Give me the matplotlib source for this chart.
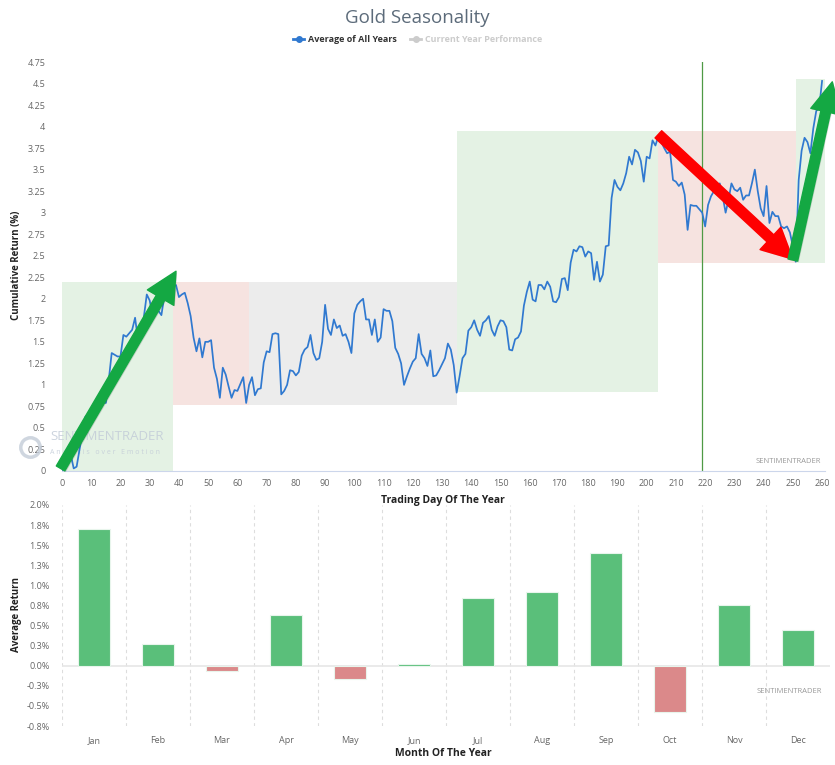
import matplotlib
matplotlib.use('Agg')
import matplotlib.pyplot as plt
import matplotlib.patheffects as pe
from matplotlib.patches import FancyArrowPatch
from matplotlib.lines import Line2D
import numpy as np

plt.rcParams['font.family'] = ['Open Sans', 'DejaVu Sans']

# average cumulative return by trading day (%)
avg_return = [
    0.01, 0.12, 0.22, 0.19, 0.03, 0.05, 0.25, 0.45, 0.63, 0.66,
    0.60, 0.68, 0.72, 0.79, 0.80, 0.79, 1.06, 1.37, 1.35, 1.33,
    1.33, 1.58, 1.56, 1.60, 1.64, 1.78, 1.52, 1.55, 1.79, 2.05,
    1.98, 1.79, 1.91, 1.86, 1.81, 2.03, 2.07, 2.10, 2.14, 2.16,
    2.02, 2.05, 2.07, 1.95, 1.80, 1.55, 1.39, 1.54, 1.32, 1.50,
    1.50, 1.52, 1.20, 1.07, 0.85, 1.20, 1.12, 0.98, 0.85, 0.94,
    0.93, 1.01, 1.09, 0.79, 1.00, 1.09, 0.88, 0.95, 0.96, 1.26,
    1.39, 1.38, 1.59, 1.60, 1.59, 0.89, 0.93, 1.00, 1.17, 1.16,
    1.11, 1.15, 1.34, 1.41, 1.44, 1.58, 1.37, 1.29, 1.31, 1.50,
    1.93, 1.65, 1.58, 1.76, 1.66, 1.69, 1.57, 1.59, 1.50, 1.37,
    1.83, 1.93, 1.97, 2.00, 1.76, 1.76, 1.58, 1.76, 1.50, 1.55,
    1.88, 1.86, 1.86, 1.74, 1.43, 1.36, 1.25, 1.00, 1.10, 1.19,
    1.27, 1.31, 1.59, 1.36, 1.31, 1.22, 1.40, 1.10, 1.11, 1.17,
    1.24, 1.31, 1.48, 1.41, 1.23, 0.91, 1.10, 1.31, 1.36, 1.63,
    1.67, 1.75, 1.64, 1.57, 1.72, 1.75, 1.80, 1.64, 1.57, 1.68,
    1.75, 1.74, 1.67, 1.41, 1.40, 1.53, 1.55, 1.62, 1.92, 2.08,
    2.20, 1.99, 1.97, 2.16, 2.16, 2.11, 2.20, 2.14, 1.97, 1.96,
    2.02, 2.23, 2.24, 2.10, 2.42, 2.57, 2.55, 2.61, 2.60, 2.49,
    2.55, 2.53, 2.22, 2.43, 2.20, 2.28, 2.61, 2.62, 3.17, 3.38,
    3.30, 3.26, 3.34, 3.46, 3.65, 3.56, 3.73, 3.70, 3.60, 3.36,
    3.65, 3.63, 3.84, 3.78, 3.89, 3.82, 3.75, 3.69, 3.71, 3.38,
    3.36, 3.31, 3.35, 3.21, 2.80, 3.09, 3.08, 3.08, 3.04, 3.00,
    2.84, 3.09, 3.19, 3.25, 3.31, 3.34, 3.19, 3.00, 3.15, 3.34,
    3.27, 3.25, 3.29, 3.15, 3.20, 3.20, 3.34, 3.50, 3.25, 3.05,
    2.96, 3.31, 2.88, 3.01, 2.96, 2.96, 2.84, 2.82, 2.84, 2.77,
    2.61, 2.43, 3.38, 3.72, 3.87, 3.82, 3.69, 3.98, 4.18, 4.22,
    4.53,
]
days = np.arange(len(avg_return))

# shaded seasonal zones: start day, end day, low, high, colour
zone_start = [0, 38, 64, 135, 204, 251]
zone_end = [38, 64, 135, 204, 251, 261]
zone_low = [0, 0.77, 0.77, 0.92, 2.42, 2.42]
zone_high = [2.2, 2.2, 2.2, 3.95, 3.95, 4.55]
zone_color = ['#e4f2e4', '#f6e3e0', '#ececec', '#e4f2e4', '#f6e3e0', '#e4f2e4']

# drawn trend arrows: (tail day, tail value) -> (tip day, tip value)
arrow_tail = [(-0.5, 0.03), (204, 3.91), (250, 2.45)]
arrow_tip = [(39, 2.32), (250, 2.46), (263.5, 4.52)]
arrow_color = ['#14a843', '#ff0000', '#14a843']

current_day = 219

months = ['Jan', 'Feb', 'Mar', 'Apr', 'May', 'Jun',
          'Jul', 'Aug', 'Sep', 'Oct', 'Nov', 'Dec']
month_return = [1.70, 0.27, -0.07, 0.63, -0.16, 0.02,
                0.84, 0.92, 1.40, -0.57, 0.75, 0.45]
month_ticks = [2.0, 1.75, 1.5, 1.25, 1.0, 0.75, 0.5, 0.25, 0.0, -0.25, -0.5, -0.75]
month_tick_labels = ['2.0%', '1.8%', '1.5%', '1.3%', '1.0%', '0.8%', '0.5%',
                     '0.3%', '0.0%', '-0.3%', '-0.5%', '-0.8%']

W, H = 835, 765
fig = plt.figure(figsize=(W / 100, H / 100), dpi=100)

def frac(x0, y0, x1, y1):
    return [x0 / W, 1 - y1 / H, (x1 - x0) / W, (y1 - y0) / H]

blue = '#3079d0'
tick_col = '#666666'

# ---- top panel: cumulative seasonality line
ax = fig.add_axes(frac(62, 62, 825, 471))
for x0, x1, lo, hi, c in zip(zone_start, zone_end, zone_low, zone_high, zone_color):
    ax.fill_between([x0, x1], lo, hi, color=c, lw=0, zorder=1)
ax.axvline(current_day, color='#4f9a45', lw=0.9, zorder=2)
ax.plot(days, avg_return, color=blue, lw=1.25, zorder=3)

for tail, tip, c in zip(arrow_tail, arrow_tip, arrow_color):
    arr = FancyArrowPatch(tail, tip, arrowstyle='simple,head_width=1.0,head_length=1.0,tail_width=0.32',
                          mutation_scale=22, color=c, shrinkA=0, shrinkB=0,
                          zorder=5, clip_on=False)
    arr.set_path_effects([pe.SimplePatchShadow(offset=(0.8, -0.8), alpha=0.18), pe.Normal()])
    ax.add_patch(arr)

ax.set_xlim(0, 261)
ax.set_ylim(0, 4.75)
ax.set_xticks(np.arange(0, 261, 10))
ax.set_yticks(np.arange(0, 4.76, 0.25))
ax.set_yticklabels(['%g' % v for v in np.arange(0, 4.76, 0.25)])
ax.tick_params(axis='both', length=0, labelsize=6.5, colors=tick_col)
ax.tick_params(axis='x', pad=6)
ax.tick_params(axis='y', pad=12)
for s in ['top', 'right', 'left']:
    ax.spines[s].set_visible(False)
ax.spines['bottom'].set_color('#ccd6eb')

# watermark
ax.text(-4, 0.40, 'SENTIMENTRADER', fontsize=9.5, color='#c3ccd8', alpha=0.85,
        va='center', zorder=2, clip_on=False)
ax.text(-4, 0.22, 'A n a l y s i s   o v e r   E m o t i o n', fontsize=5, color='#c3ccd8',
        alpha=0.85, va='center', zorder=2, clip_on=False)
ax.plot([-11], [0.28], marker='o', ms=14, mfc='none', mec='#c3ccd8', mew=2.5,
        alpha=0.8, clip_on=False, zorder=2)
ax.text(0.995, 0.015, 'SENTIMENTRADER', transform=ax.transAxes, fontsize=5.5,
        color='#999999', ha='right', va='bottom')

# ---- bottom panel: average monthly return
ax2 = fig.add_axes(frac(62, 505, 830, 726))
xm = np.arange(len(months))
bar_cols = ['#5abf7a' if v >= 0 else '#db898a' for v in month_return]
ax2.bar(xm, month_return, width=0.5, color=bar_cols, edgecolor='#e8f5ec', lw=0.8, zorder=3)
for b in np.arange(len(months)) - 0.5:
    ax2.axvline(b, color='#dddddd', lw=0.8, ls=(0, (3, 3)), zorder=1)
ax2.axhline(0, color='#e6e6e6', lw=1.2, zorder=2)
ax2.set_xlim(-0.5, 11.5)
ax2.set_ylim(-0.75, 2.0)
ax2.set_xticks(xm)
ax2.set_xticklabels(months)
ax2.set_yticks(month_ticks)
ax2.set_yticklabels(month_tick_labels)
ax2.tick_params(axis='both', length=0, labelsize=6.5, colors=tick_col)
ax2.tick_params(axis='x', pad=7)
ax2.tick_params(axis='y', pad=9)
for s in ax2.spines.values():
    s.set_visible(False)
ax2.text(0.99, 0.14, 'SENTIMENTRADER', transform=ax2.transAxes, fontsize=5.5,
         color='#999999', ha='right', va='bottom')

# ---- titles and labels
fig.text(0.5, 1 - 18 / H, 'Gold Seasonality', ha='center', va='center',
         fontsize=13.5, color='#5c6b7a')
fig.text(17 / W, 1 - 265 / H, 'Cumulative Return (%)', rotation=90, ha='center',
         va='center', fontsize=7, fontweight='bold', color='#222222')
fig.text(443 / W, 1 - 500 / H, 'Trading Day Of The Year', ha='center', va='center',
         fontsize=7.5, fontweight='bold', color='#222222')
fig.text(17 / W, 1 - 615 / H, 'Average Return', rotation=90, ha='center',
         va='center', fontsize=7, fontweight='bold', color='#222222')
fig.text(443 / W, 1 - 754 / H, 'Month Of The Year', ha='center', va='center',
         fontsize=7.5, fontweight='bold', color='#222222')

handles = [Line2D([], [], color=blue, marker='o', ms=4, lw=2),
           Line2D([], [], color='#cccccc', marker='o', ms=4, lw=2)]
leg = fig.legend(handles, ['Average of All Years', 'Current Year Performance'],
                 loc='center', bbox_to_anchor=(0.5, 1 - 40 / H), ncol=2, frameon=False,
                 fontsize=6.5, handlelength=1.2, handletextpad=0.4, columnspacing=1.5)
leg.get_texts()[0].set_color('#333333')
leg.get_texts()[0].set_fontweight('bold')
leg.get_texts()[1].set_color('#cccccc')
leg.get_texts()[1].set_fontweight('bold')

fig.savefig('out.png', dpi=100)
